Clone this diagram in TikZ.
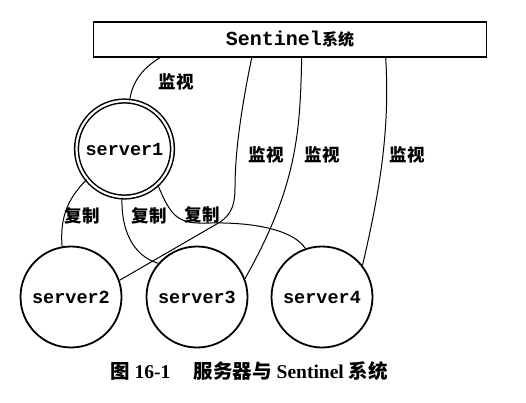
\documentclass[tikz,border=0pt]{standalone}
\usepackage{fontspec}
\setmainfont{Liberation Serif}
\setmonofont{Liberation Mono}
\newfontfamily\cjk{Noto Sans CJK SC}
\usetikzlibrary{calc}
\begin{document}
\begin{tikzpicture}[x=1pt,y=-1pt,
  server/.style={circle,draw,line width=1.8pt,minimum size=101pt,inner sep=0pt,
    font=\fontsize{18.5}{20}\selectfont\ttfamily\bfseries},
  master/.style={circle,draw,double,double distance=2.2pt,line width=1.5pt,
    minimum size=96pt,inner sep=0pt,font=\fontsize{18.5}{20}\selectfont\ttfamily\bfseries},
  link/.style={line width=1pt},
  lbl/.style={font=\fontsize{17.5}{19}\selectfont\cjk\bfseries,inner sep=0pt}]
\useasboundingbox (0,0) rectangle (526,403);
% sentinel box
\node[draw,line width=1.6pt,minimum width=393pt,minimum height=35pt,inner sep=0pt,
  font=\fontsize{20}{22}\selectfont\ttfamily\bfseries] (sent) at (290,39.5)
  {Sentinel{\cjk\bfseries\fontsize{16}{18}\selectfont 系统}};
% servers
\node[master] (s1) at (124.5,149) {server1};
\node[server] (s2) at (71,297) {server2};
\node[server] (s3) at (197,297) {server3};
\node[server] (s4) at (322,297) {server4};
% sentinel monitoring
\coordinate (m1) at ($(sent.south west)+(67,0)$);
\coordinate (m2) at ($(sent.south west)+(159,0)$);
\coordinate (m3) at ($(sent.south west)+(209,0)$);
\coordinate (m4) at ($(sent.south west)+(293,0)$);
\draw[link] (m1) .. controls (140,70) and (132,84) .. (s1.84);
\draw[link] (m2) .. controls (242,105) and (235,150) .. (235,188)
  .. controls (235,210) and (228,218) .. (215,225) -- (s2.19);
\draw[link] (m3) .. controls (300,130) and (298,185) .. (s3.21);
\draw[link] (m4) .. controls (390,130) and (380,190) .. (s4.38);
% replication
\draw[link] (s1.219) .. controls (66,200) and (60,220) .. (s2.100);
\draw[link] (s1.267) .. controls (121,240) and (140,258) .. (s3.139);
\draw[link] (s1.313) .. controls (172,220) and (180,224) .. (210,223)
  .. controls (260,222) and (295,232) .. (s4.109);
% labels
\node[lbl] (l1) at (176,82) {监视};
\node[lbl] (l2) at (266,155) {监视};
\node[lbl] (l3) at (322,155) {监视};
\node[lbl] (l4) at (407,155) {监视};
\node[lbl] (r1) at (82,216) {复制};
\node[lbl] (r2) at (149,216) {复制};
\node[lbl] (r3) at (202,215) {复制};
% caption
\node[inner sep=0pt,font=\fontsize{19.5}{21}\selectfont\bfseries] (cap) at (249,371)
  {{\cjk 图} 16-1\hspace{1.2em}{\cjk 服务器与} Sentinel {\cjk 系统}};
\end{tikzpicture}
\end{document}
